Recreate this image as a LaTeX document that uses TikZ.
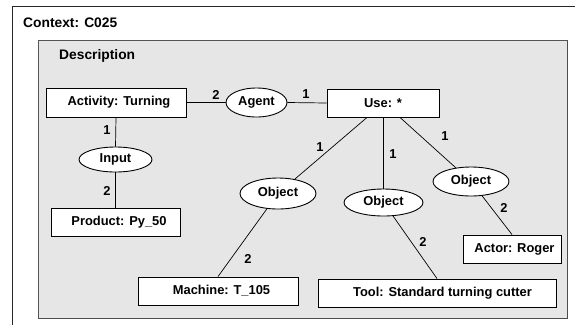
\documentclass[tikz,border=0pt]{standalone}
\usepackage{fontspec}
\setmainfont{Liberation Sans}
\usetikzlibrary{shapes.geometric}
\definecolor{panelgray}{HTML}{E6E6E6}
\definecolor{panelline}{HTML}{555555}
\tikzset{
  lab/.style={font=\fontsize{12.9}{15}\selectfont\bfseries, inner sep=0pt},
  ttl/.style={font=\fontsize{13.8}{16}\selectfont\bfseries, inner sep=0pt, anchor=west},
  concept/.style={draw=black, fill=white, line width=0.9pt, rectangle, inner sep=0pt, lab},
  relation/.style={draw=black, fill=white, line width=0.9pt, ellipse, inner sep=0pt, lab},
  link/.style={draw=black, line width=0.7pt},
}
\begin{document}
\begin{tikzpicture}[x=1pt,y=-1pt]
\useasboundingbox (0,0) rectangle (575,325);
% outer context frame
\draw[line width=1pt, black!85] (575,6) -- (12,6) -- (12,325);
\node[ttl] (ctx) at (23,23) {Context: C025};
% description panel
\fill[panelgray] (38,40) rectangle (567,318);
\draw[panelline, line width=1pt] (38,40) rectangle (567,318);
\draw[black!70, line width=1.2pt] (567.5,41) -- (567.5,318.5) -- (39,318.5);
\node[ttl] (desc) at (59,56) {Description};

% concept boxes
\node[concept, minimum width=140, minimum height=29] (act) at (116,102.5) {\hspace{6pt}Activity: Turning};
\node[relation, minimum width=61, minimum height=29] (agent) at (256.5,102.5) {Agent};
\node[concept, minimum width=112, minimum height=28] (use) at (383,103) {Use: *};
\node[relation, minimum width=73, minimum height=25] (input) at (115.5,159.5) {Input};
\node[concept, minimum width=129, minimum height=28] (prod) at (115.5,222) {\hspace{7pt}Product: Py\_50};
\node[relation, minimum width=76, minimum height=31] (obj1) at (278,193.5) {Object};
\node[relation, minimum width=79, minimum height=27] (obj2) at (383.5,202.5) {Object};
\node[relation, minimum width=76, minimum height=29] (obj3) at (471,181.5) {Object};
\node[concept, minimum width=160, minimum height=28] (mach) at (218,291) {\hspace{7pt}Machine: T\_105};
\node[concept, minimum width=238, minimum height=28] (tool) at (437,293) {\hspace{11pt}Tool: Standard turning cutter};
\node[concept, minimum width=98, minimum height=28] (actor) at (512,249) {\hspace{5pt}Actor: Roger};

% connectors
\draw[link] (act.east) -- (agent.west);
\draw[link] (agent.east) -- (use.west);
\draw[link] (act.south) -- (input.north);
\draw[link] (input.south) -- (prod.north);
\draw[link] ([xshift=-16pt]use.south) -- (obj1);
\draw[link] (use.south -| obj2.north) -- (obj2.north);
\draw[link] ([xshift=17pt]use.south) -- (obj3);
\draw[link] (obj1) -- (mach.north);
\draw[link] (obj2) -- (tool.north);
\draw[link] (obj3) -- (actor.north);

% cardinality labels
\node[lab] (n1) at (216,95) {2};
\node[lab] (n2) at (306,94) {1};
\node[lab] (n3) at (107,130) {1};
\node[lab] (n4) at (107,191) {2};
\node[lab] (n5) at (320,147) {1};
\node[lab] (n6) at (393,154) {1};
\node[lab] (n7) at (445,136) {1};
\node[lab] (n8) at (248,259) {2};
\node[lab] (n9) at (423,242) {2};
\node[lab] (n10) at (504,208) {2};
\end{tikzpicture}
\end{document}
